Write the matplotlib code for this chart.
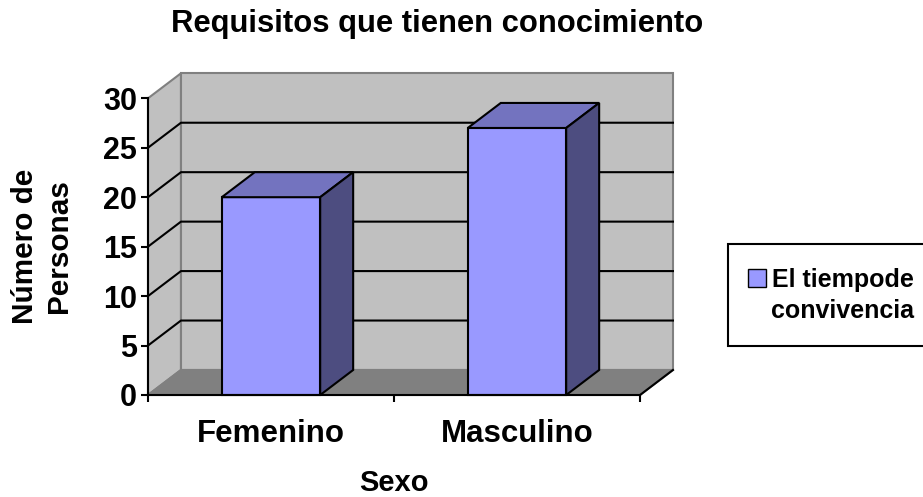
import matplotlib
matplotlib.use("Agg")
import matplotlib.pyplot as plt
from matplotlib.patches import Polygon, Patch

plt.rcParams["font.family"] = ["Liberation Sans", "DejaVu Sans"]
plt.rcParams["font.weight"] = "bold"

# Data
categories = ["Femenino", "Masculino"]
values = [20, 27]
series_label = "El tiempode\nconvivencia"
y_ticks = [0, 5, 10, 15, 20, 25, 30]
title = "Requisitos que tienen conocimiento"
x_label = "Sexo"
y_label = "Número de\nPersonas"

# Colours (Excel 2003 style)
wall_color = "#c0c0c0"
floor_color = "#808080"
edge_gray = "#808080"
bar_front = "#9999ff"
bar_top = "#7373bf"
bar_side = "#4d4d80"

W, H = 923, 497
fig = plt.figure(figsize=(W / 100, H / 100), dpi=100)
ax = fig.add_axes([148 / W, (H - 395) / H, 492 / W, (395 - 98.3) / H])
ax.set_xlim(-0.5, len(categories) - 0.5)
ax.set_ylim(0, y_ticks[-1])

# 3d depth offset in data units
dx = 0.134
dy = 2.53
x0, x1 = -0.5, len(categories) - 0.5
ymax = y_ticks[-1]

# walls and floor
ax.add_patch(Polygon([(x0, 0), (x0 + dx, dy), (x0 + dx, ymax + dy), (x0, ymax)],
                     closed=True, facecolor=wall_color, edgecolor=edge_gray, lw=1.5,
                     clip_on=False, zorder=1))
ax.add_patch(Polygon([(x0 + dx, dy), (x1 + dx, dy), (x1 + dx, ymax + dy), (x0 + dx, ymax + dy)],
                     closed=True, facecolor=wall_color, edgecolor=edge_gray, lw=1.5,
                     clip_on=False, zorder=1))
ax.add_patch(Polygon([(x0, 0), (x1, 0), (x1 + dx, dy), (x0 + dx, dy)],
                     closed=True, facecolor=floor_color, edgecolor=edge_gray, lw=1.5,
                     clip_on=False, zorder=1))
ax.plot([x1, x1 + dx], [0, dy], color="black", lw=1.5, clip_on=False, zorder=2)

# gridlines on the side wall and back wall
for v in y_ticks[1:-1]:
    ax.plot([x0, x0 + dx, x1 + dx], [v, v + dy, v + dy], color="black", lw=1.5,
            clip_on=False, zorder=2)

# 3d bars
bar_w = 0.40
for i, v in enumerate(values):
    a, b = i - bar_w / 2, i + bar_w / 2
    ax.add_patch(Polygon([(a, 0), (b, 0), (b, v), (a, v)], closed=True,
                         facecolor=bar_front, edgecolor="black", lw=1.5,
                         clip_on=False, zorder=3))
    ax.add_patch(Polygon([(a, v), (b, v), (b + dx, v + dy), (a + dx, v + dy)], closed=True,
                         facecolor=bar_top, edgecolor="black", lw=1.5,
                         clip_on=False, zorder=3))
    ax.add_patch(Polygon([(b, 0), (b + dx, dy), (b + dx, v + dy), (b, v)], closed=True,
                         facecolor=bar_side, edgecolor="black", lw=1.5,
                         clip_on=False, zorder=3))

# axes
ax.set_facecolor("none")
for s in ["top", "right"]:
    ax.spines[s].set_visible(False)
for s in ["left", "bottom"]:
    ax.spines[s].set_linewidth(1.5)
    ax.spines[s].set_zorder(4)
ax.set_yticks(y_ticks)
ax.set_yticklabels([str(t) for t in y_ticks], fontsize=22, fontweight="bold")
ax.tick_params(axis="y", length=5, width=1.5, pad=3)
ax.set_xticks(range(len(categories)))
ax.set_xticklabels(categories, fontsize=22.5, fontweight="bold")
ax.set_xticks([i - 0.5 for i in range(len(categories) + 1)], minor=True)
ax.tick_params(axis="x", which="major", length=0, pad=17)
ax.tick_params(axis="x", which="minor", length=5, width=1.5)

fig.text(437.5 / W, 1 - 32 / H, title, ha="center", va="baseline", fontsize=22.3, fontweight="bold")
fig.text(394 / W, 1 - 483 / H, x_label, ha="center", va="center", fontsize=21, fontweight="bold")
fig.text(42 / W, 1 - 246 / H, y_label, ha="center", va="center", rotation=90,
         fontsize=21.4, fontweight="bold", linespacing=1.3)

leg = fig.legend(handles=[Patch(facecolor=bar_front, edgecolor="black", label=series_label)],
                 loc="upper left", bbox_to_anchor=(728 / W, 1 - 244 / H),
                 prop={"size": 18, "weight": "bold"}, frameon=True, fancybox=False,
                 framealpha=1, edgecolor="black", handlelength=0.72, handleheight=0.72,
                 handletextpad=0.05, borderpad=0.95, borderaxespad=0)
leg.get_frame().set_linewidth(1.5)
for t in leg.get_texts():
    t.set_multialignment("center")
    t.set_linespacing(1.36)
# Excel puts the key square next to the first line of the label
h = leg.legend_handles[0]
h.set_y(h.get_y() + 13)
h.set_x(h.get_x() - 3)

fig.savefig("out.png", dpi=100, facecolor="white")
